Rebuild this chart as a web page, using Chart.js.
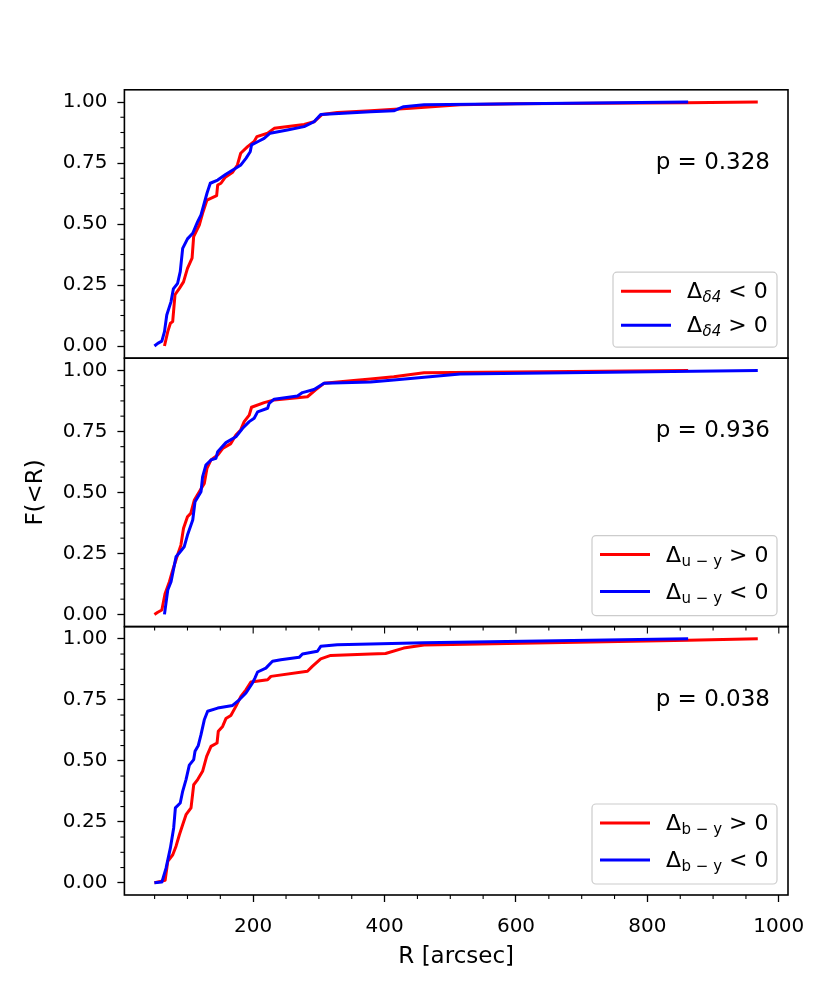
<!DOCTYPE html>
<html>
<head>
<meta charset="utf-8">
<title>F(&lt;R) cumulative distributions</title>
<script src="https://cdn.jsdelivr.net/npm/chart.js@4.4.0/dist/chart.umd.min.js"></script>
<style>
  html, body { margin: 0; padding: 0; background: #fff; }
  canvas { display: block; }
</style>
</head>
<body>
<canvas id="cdfChart" width="830" height="997"></canvas>
<script>
// R [arcsec] and F(<R) values

// top panel: delta_4 < 0 (red), delta_4 > 0 (blue)
const d4NegR = [65, 70, 74, 77.5, 81, 87.7, 94, 100, 107, 109.4, 118, 123, 129.7, 144.4, 146, 151, 157, 168.7, 176, 181, 191.5, 201.5, 205.6, 222, 232, 277.5, 292.6, 305, 328, 378.7, 439.5, 515, 600, 860, 968];
const d4NegF = [0, 0.059, 0.093, 0.10, 0.21, 0.236, 0.263, 0.318, 0.36, 0.448, 0.496, 0.544, 0.598, 0.616, 0.66, 0.667, 0.69, 0.712, 0.742, 0.79, 0.817, 0.838, 0.858, 0.872, 0.892, 0.908, 0.919, 0.949, 0.957, 0.964, 0.974, 0.989, 0.993, 0.997, 1.0];
const d4PosR = [49.7, 54.8, 61, 65, 68.5, 75, 78.5, 85, 89, 92.7, 100, 108, 115.5, 120.6, 129.7, 134.7, 146, 158.5, 181.3, 189, 195.5, 197.5, 209, 216.7, 225.8, 252, 277.5, 292.6, 302.8, 378.7, 414, 429, 460, 862];
const d4PosF = [0, 0.011, 0.02, 0.059, 0.127, 0.182, 0.234, 0.257, 0.305, 0.40, 0.439, 0.462, 0.51, 0.537, 0.626, 0.667, 0.68, 0.704, 0.742, 0.769, 0.796, 0.824, 0.84, 0.851, 0.872, 0.885, 0.899, 0.919, 0.949, 0.96, 0.964, 0.981, 0.989, 1.0];

// middle panel: u-y > 0 (red), u-y < 0 (blue)
const uyPosR = [49.7, 54.8, 61, 66, 72.5, 77.6, 84, 90, 94, 100, 105, 110.5, 118, 125.6, 129.7, 135.8, 146, 153.5, 166, 173.7, 181, 186.3, 194, 197.5, 216.7, 232, 282.6, 295, 307.8, 353, 378.7, 414, 460, 862];
const uyPosF = [0, 0.009, 0.018, 0.086, 0.134, 0.182, 0.236, 0.284, 0.353, 0.40, 0.414, 0.469, 0.503, 0.537, 0.599, 0.633, 0.653, 0.68, 0.70, 0.735, 0.756, 0.79, 0.817, 0.849, 0.868, 0.879, 0.892, 0.92, 0.947, 0.959, 0.965, 0.974, 0.99, 1.0];
const uyNegR = [65, 70, 75, 82.6, 89, 95, 100, 108, 111.5, 120.6, 123, 128, 135.8, 143.4, 146, 158.5, 173.7, 184, 194, 201.5, 206.7, 222, 224.3, 232, 267.4, 275, 292.6, 307.8, 378.7, 414, 515, 968];
const uyNegF = [0, 0.10, 0.134, 0.236, 0.257, 0.277, 0.325, 0.387, 0.462, 0.503, 0.564, 0.612, 0.633, 0.64, 0.667, 0.704, 0.728, 0.763, 0.79, 0.804, 0.83, 0.845, 0.865, 0.882, 0.895, 0.909, 0.922, 0.947, 0.952, 0.961, 0.985, 1.0];

// bottom panel: b-y > 0 (red), b-y < 0 (blue)
const byPosR = [49.7, 66, 70, 77.6, 82.6, 87.7, 92.7, 97.8, 105.4, 109.5, 115.5, 123, 129.2, 135.8, 145, 146.9, 153.5, 158.5, 166, 173.7, 181.3, 189, 196.5, 222, 227, 282.6, 290, 302.8, 318, 378.7, 401.5, 429, 460, 862, 968];
const byPosF = [0, 0.01, 0.088, 0.115, 0.15, 0.197, 0.238, 0.279, 0.307, 0.402, 0.423, 0.457, 0.518, 0.559, 0.573, 0.621, 0.641, 0.673, 0.686, 0.723, 0.764, 0.791, 0.823, 0.832, 0.846, 0.867, 0.887, 0.918, 0.932, 0.938, 0.94, 0.962, 0.975, 0.994, 1.0];
const byNegR = [49.7, 61, 67.4, 74, 79, 81.6, 89, 92.7, 97.8, 102.8, 109.5, 111.5, 116.5, 120.6, 125.6, 130.7, 146, 168.7, 178.8, 189, 199, 202.6, 206.7, 219.3, 229.4, 242, 270, 275, 297.8, 302.8, 328, 378.7, 460, 862];
const byNegF = [0, 0.003, 0.06, 0.143, 0.225, 0.307, 0.327, 0.375, 0.423, 0.482, 0.505, 0.539, 0.563, 0.607, 0.668, 0.703, 0.716, 0.727, 0.75, 0.778, 0.819, 0.839, 0.864, 0.88, 0.908, 0.914, 0.924, 0.938, 0.949, 0.969, 0.976, 0.979, 0.984, 1.0];

const xMajorTicks = [200, 400, 600, 800, 1000];
const yMajorTicks = [0, 0.25, 0.5, 0.75, 1];
const pValues = ['0.328', '0.936', '0.038'];

const RED = '#ff0000';
const BLUE = '#0000ff';
const FONT = '"DejaVu Sans", "Liberation Sans", sans-serif';

const toPoints = (rs, fs) => rs.map((r, i) => ({ x: r, y: fs[i] }));

// stacked y axes are laid out bottom-up: yBot is placed first (lowest)
const panels = [
  {
    axis: 'yTop', p: pValues[0],
    red: toPoints(d4NegR, d4NegF), blue: toPoints(d4PosR, d4PosF),
    legend: [
      { color: RED, sub: 'δ4', italic: true, rest: ' < 0' },
      { color: BLUE, sub: 'δ4', italic: true, rest: ' > 0' }
    ],
    boxW: 164, boxH: 75, rows: [19, 53]
  },
  {
    axis: 'yMid', p: pValues[1],
    red: toPoints(uyPosR, uyPosF), blue: toPoints(uyNegR, uyNegF),
    legend: [
      { color: RED, sub: 'u − y', italic: false, rest: ' > 0' },
      { color: BLUE, sub: 'u − y', italic: false, rest: ' < 0' }
    ],
    boxW: 185, boxH: 80, rows: [19, 56]
  },
  {
    axis: 'yBot', p: pValues[2],
    red: toPoints(byPosR, byPosF), blue: toPoints(byNegR, byNegF),
    legend: [
      { color: RED, sub: 'b − y', italic: false, rest: ' > 0' },
      { color: BLUE, sub: 'b − y', italic: false, rest: ' < 0' }
    ],
    boxW: 185, boxH: 80, rows: [19, 56]
  }
];

const lineStyle = {
  borderWidth: 3,
  pointRadius: 0,
  pointHoverRadius: 0,
  tension: 0,
  fill: false,
  borderJoinStyle: 'round'
};

const datasets = [];
panels.forEach(p => {
  datasets.push(Object.assign({ data: p.red, borderColor: RED, yAxisID: p.axis, order: 2 }, lineStyle));
  datasets.push(Object.assign({ data: p.blue, borderColor: BLUE, yAxisID: p.axis, order: 1 }, lineStyle));
});

const gridOpts = {
  drawOnChartArea: false,
  drawTicks: true,
  tickLength: 7,
  tickColor: '#000',
  tickWidth: 1.3
};

function yScale(withTitle) {
  return {
    type: 'linear',
    position: 'left',
    stack: 'cdf',
    stackWeight: 1,
    min: -0.05,
    max: 1.05,
    afterBuildTicks: s => { s.ticks = yMajorTicks.map(v => ({ value: v })); },
    afterFit: s => { s.width = 124.4; },
    ticks: {
      callback: v => v.toFixed(2),
      color: '#000',
      font: { family: FONT, size: 20 },
      padding: 10
    },
    grid: gridOpts,
    border: { display: false },
    title: {
      display: withTitle,
      text: 'F(<R)',
      color: '#000',
      font: { family: FONT, size: 23 },
      padding: { top: 22, bottom: 0 }
    }
  };
}

// draws "Δ" + subscript + rest, matplotlib mathtext style
function drawDeltaLabel(ctx, x, y, item) {
  ctx.fillStyle = '#000';
  ctx.textAlign = 'left';
  ctx.textBaseline = 'alphabetic';
  ctx.font = '22px ' + FONT;
  ctx.fillText('Δ', x, y);
  x += ctx.measureText('Δ').width + 0.5;
  ctx.font = (item.italic ? 'italic ' : '') + '15px ' + FONT;
  ctx.fillText(item.sub, x, y + 4);
  x += ctx.measureText(item.sub).width;
  ctx.font = '22px ' + FONT;
  ctx.fillText(item.rest, x, y);
}

function roundBox(ctx, x, y, w, h, r) {
  ctx.beginPath();
  ctx.moveTo(x + r, y);
  ctx.lineTo(x + w - r, y);
  ctx.arcTo(x + w, y, x + w, y + r, r);
  ctx.lineTo(x + w, y + h - r);
  ctx.arcTo(x + w, y + h, x + w - r, y + h, r);
  ctx.lineTo(x + r, y + h);
  ctx.arcTo(x, y + h, x, y + h - r, r);
  ctx.lineTo(x, y + r);
  ctx.arcTo(x, y, x + r, y, r);
  ctx.closePath();
}

const panelDecor = {
  id: 'panelDecor',
  afterDatasetsDraw(chart) {
    const ctx = chart.ctx;
    const area = chart.chartArea;
    const xs = chart.scales.x;
    ctx.save();
    ctx.strokeStyle = '#000';

    // minor x ticks (every 50) at the bottom, and the middle panel's ticks poking into the bottom one
    const mid = chart.scales.yMid;
    ctx.lineWidth = 1.1;
    for (let v = 50; v <= 1000; v += 50) {
      const px = xs.getPixelForValue(v);
      const isMajor = xMajorTicks.includes(v);
      ctx.beginPath();
      if (!isMajor) {
        ctx.moveTo(px, area.bottom);
        ctx.lineTo(px, area.bottom + 4);
      }
      ctx.moveTo(px, mid.bottom);
      ctx.lineTo(px, mid.bottom + (isMajor ? 7 : 4));
      ctx.stroke();
    }

    panels.forEach(p => {
      const s = chart.scales[p.axis];

      // minor y ticks every 0.0625
      ctx.strokeStyle = '#000';
      ctx.lineWidth = 1.1;
      for (let k = 1; k < 16; k++) {
        if (k % 4 === 0) continue;
        const py = s.getPixelForValue(k * 0.0625);
        ctx.beginPath();
        ctx.moveTo(area.left - 4, py);
        ctx.lineTo(area.left, py);
        ctx.stroke();
      }

      // panel frame
      ctx.lineWidth = 1.6;
      ctx.strokeRect(area.left, s.top, area.right - area.left, s.bottom - s.top);

      // p-value
      ctx.fillStyle = '#000';
      ctx.font = '23px ' + FONT;
      ctx.textAlign = 'right';
      ctx.textBaseline = 'middle';
      ctx.fillText('p = ' + p.p, area.right - 18, s.getPixelForValue(0.75));

      // legend
      const right = area.right - 11;
      const bottom = s.bottom - 11;
      const left = right - p.boxW;
      const top = bottom - p.boxH;
      roundBox(ctx, left, top, p.boxW, p.boxH, 4);
      ctx.fillStyle = 'rgba(255,255,255,0.8)';
      ctx.fill();
      ctx.strokeStyle = '#cccccc';
      ctx.lineWidth = 1.2;
      ctx.stroke();
      p.legend.forEach((item, i) => {
        const y = top + p.rows[i];
        ctx.strokeStyle = item.color;
        ctx.lineWidth = 3;
        ctx.beginPath();
        ctx.moveTo(left + 8, y);
        ctx.lineTo(left + 58, y);
        ctx.stroke();
        drawDeltaLabel(ctx, left + 74, y + 7, item);
      });
    });
    ctx.restore();
  }
};

const ctx = document.getElementById('cdfChart').getContext('2d');
new Chart(ctx, {
  type: 'line',
  data: { datasets: datasets },
  options: {
    responsive: false,
    animation: false,
    devicePixelRatio: 1,
    layout: { padding: { top: 89.8, left: 0, right: 42, bottom: 0 } },
    plugins: {
      legend: { display: false },
      tooltip: { enabled: false }
    },
    scales: {
      x: {
        type: 'linear',
        position: 'bottom',
        min: 4,
        max: 1014,
        afterBuildTicks: s => { s.ticks = xMajorTicks.map(v => ({ value: v })); },
        afterFit: s => { s.height = 102; },
        ticks: {
          callback: v => String(v),
          autoSkip: false,
          maxRotation: 0,
          color: '#000',
          font: { family: FONT, size: 20 },
          padding: 13
        },
        grid: gridOpts,
        border: { display: false },
        title: {
          display: true,
          text: 'R [arcsec]',
          color: '#000',
          font: { family: FONT, size: 23 },
          padding: { top: 0, bottom: 26 }
        }
      },
      yBot: yScale(false),
      yMid: yScale(true),
      yTop: yScale(false)
    }
  },
  plugins: [panelDecor]
});
</script>
</body>
</html>
